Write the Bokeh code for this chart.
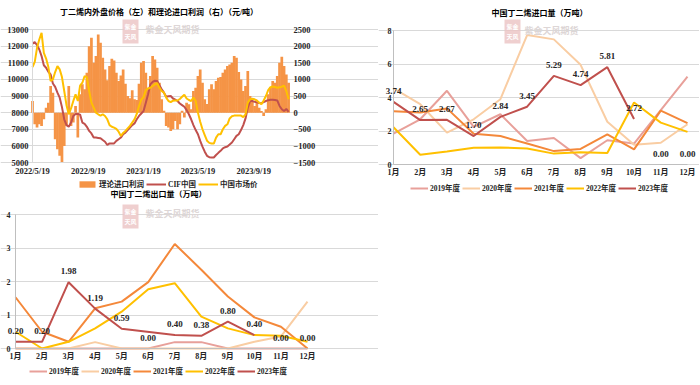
import numpy as np
import pandas as pd
from bokeh.plotting import figure
from bokeh.models import (Range1d, LinearAxis, FixedTicker, Legend, LegendItem,
                          Label, LabelSet, ColumnDataSource)
from bokeh.layouts import row, column
from bokeh.embed import file_html
from bokeh.resources import INLINE
from bokeh.core.properties import value

# ---------------- Chart 1 data (every 5 days from start_date) ----------------
start_date = "2022-05-19"
step_days = 5
profit = [350, -350, -450, -350, -400, -200, 150, 300, 800, 600,
          -800, -1100, -1300, -1500, -1000, -400, 800, -400, -300, 200,
          -750, 550, 850, 700, 1200, 2000, 2250, 1500, 1700, 2350,
          2100, 1650, 1300, 970, 1400, 1620, 1570, 1200, 950, 1120,
          1300, 870, 500, 430, 670, 400, 380, 870, 1500, 1550,
          1200, 750, 1100, 1700, 1600, 1350, 900, 400, 60, -400,
          -450, -550, -500, -250, -500, -350, 60, -150, 300, 250,
          100, 650, 750, 1100, 1300, 900, 400, 260, 700, 850,
          700, 950, 1050, 1070, 1200, 1300, 1400, 1450, 1500, 1700,
          1650, 1220, 1000, 650, 800, 1250, 500, 320, 200, 300,
          150, 50, -100, 100, 550, 770, 950, 900, 1100, 1500,
          1680, 1400, 1150, 900]
cif_price = [12150, 12250, 12050, 11800, 11400, 10850, 10700, 10450, 10300, 9750,
             9550, 9200, 8900, 8330, 7600, 7250, 7150, 7400, 7800, 7920,
             7920, 7880, 7400, 7320, 7150, 6900, 6750, 6500, 6500, 6480,
             6460, 6350, 6250, 6050, 6150, 6150, 6150, 6300, 6400, 6500,
             6700, 6800, 6950, 7100, 7250, 7350, 7600, 7800, 7950, 8100,
             8600, 9100, 9700, 9850, 9920, 9900, 9650, 9400, 9200, 8950,
             8980, 9000, 8850, 8780, 8700, 8550, 8450, 8350, 8150, 7900,
             7600, 7250, 6950, 6700, 6300, 5950, 5650, 5400, 5320, 5300,
             5300, 5450, 5580, 5700, 5850, 5920, 5960, 6080, 6200, 6400,
             6600, 6700, 6950, 7250, 7650, 8300, 8700, 8700, 8650, 8630,
             8580, 8570, 8630, 8700, 8750, 8770, 8770, 8760, 8730, 8400,
             8200, 8100, 8220, 8050]
market_price = [10740, 11050, 11900, 12400, 12800, 11600, 11250, 10740, 9900, 10000,
                10440, 10800, 10600, 10140, 9300, 8450, 7900, 8250, 8700, 9100,
                8700, 9630, 9800, 10200, 10140, 9300, 8600, 8300, 8000, 7900,
                7820, 7900, 7800, 7600, 7250, 7150, 7100, 7020, 6850, 6600,
                6780, 6900, 7050, 7200, 7400, 7600, 7920, 8400, 8780, 8930,
                9350, 9450, 9500, 9600, 9700, 9780, 9500, 9300, 9200, 8900,
                8700, 8630, 8720, 8730, 8730, 8820, 8950, 9080, 8850, 8760,
                8700, 8900, 8700, 8000, 7450, 7000, 6650, 6310, 6180, 6140,
                6140, 6500, 6700, 6700, 7000, 7200, 7300, 7650, 7780, 7820,
                7820, 7820, 7820, 7730, 7900, 8600, 8800, 8830, 8800, 8730,
                8600, 8500, 8730, 9000, 9350, 9530, 9570, 9540, 9500, 9520,
                9560, 9630, 9300, 8800]
date_ticks = ["2022-05-19", "2022-09-19", "2023-01-19", "2023-05-19", "2023-09-19"]
date_tick_labels = ["2022/5/19", "2022/9/19", "2023/1/19", "2023/5/19", "2023/9/19"]
end_date = "2023-12-07"
price_ticks = list(range(5000, 13001, 1000))
profit_ticks = list(range(-1500, 2501, 500))

# ---------------- Chart 2 / 3 data ----------------
months = list(range(1, 13))
month_labels = ["1月", "2月", "3月", "4月", "5月", "6月", "7月", "8月", "9月", "10月", "11月", "12月"]
years = ["2019年度", "2020年度", "2021年度", "2022年度", "2023年度"]

imp_ticks = [0, 2, 4, 6, 8]
imp_2019 = [1.84, 2.70, 4.40, 2.25, 3.00, 1.40, 1.58, 0.38, 1.45, 1.25, 3.25, 5.25]
imp_2020 = [4.55, 3.60, 1.90, 2.70, 3.90, 7.73, 7.47, 5.95, 2.55, 1.18, 1.30, 2.40]
imp_2021 = [3.18, 3.10, 3.35, 1.84, 1.70, 1.25, 0.80, 0.93, 1.80, 0.90, 3.22, 2.47]
imp_2022 = [2.22, 0.58, 0.78, 1.00, 1.02, 0.96, 0.65, 0.73, 0.69, 3.70, 2.50, 1.95]
imp_2023 = [3.74, 2.65, 2.67, 1.70, 2.84, 3.45, 5.29, 4.74, 5.81, 2.72, 0.00, 0.00]

exp_ticks = [0, 1, 2, 3, 4]
exp_2019 = [0.00, 0.00, 0.00, 0.00, 0.00, 0.00, 0.19, 0.19, 0.00, 0.00, 0.00, 0.00]
exp_2020 = [0.00, 0.00, 0.00, 0.19, 0.00, 0.00, 0.00, 0.00, 0.00, 0.20, 0.36, 1.40]
exp_2021 = [1.53, 0.50, 0.20, 1.20, 1.40, 1.98, 3.12, 2.35, 1.55, 0.93, 0.65, 0.00]
exp_2022 = [0.50, 0.00, 0.20, 0.60, 1.10, 1.77, 1.95, 0.95, 0.60, 0.40, 0.38, 0.20]
exp_2023 = [0.20, 0.20, 1.98, 1.19, 0.59, 0.00, 0.40, 0.38, 0.80, 0.40, 0.00, 0.00]

# ---------------- styles ----------------
FONT = "Liberation Serif, Noto Sans CJK SC"
TXT = "#262626"
GRID = "#D9D9D9"
AXIS = "#BFBFBF"
BAR_COLOR = "#F59446"
CIF_COLOR = "#C0504D"
MKT_COLOR = "#FFC000"
YEAR_COLORS = ["#E8A09A", "#F9CDA3", "#F4883A", "#FFC000", "#C0504D"]


def style_axis(ax, size, standoff, line_color, fixed, bounds):
    ax.fixed_location = fixed
    ax.bounds = bounds
    ax.major_label_text_font = FONT
    ax.major_label_text_font_size = size
    ax.major_label_text_font_style = "bold"
    ax.major_label_text_color = TXT
    ax.major_tick_out = 0
    ax.major_tick_in = 0
    ax.minor_tick_out = 0
    ax.minor_tick_in = 0
    ax.major_label_standoff = standoff
    ax.axis_line_color = line_color


def make_fig(w, h, xr, yr):
    # the frame covers the whole canvas; axes are drawn at fixed data locations inside it
    p = figure(width=w, height=h, output_backend="svg", toolbar_location=None, title=None,
               x_range=Range1d(*xr), y_range=Range1d(*yr),
               min_border_left=0, min_border_right=0, min_border_top=0, min_border_bottom=0)
    p.outline_line_color = None
    return p


def make_legend(items, loc, gw):
    return Legend(items=items, location=loc, orientation="horizontal",
                  background_fill_alpha=0, border_line_color=None,
                  padding=0, margin=0, spacing=2, label_standoff=2,
                  glyph_width=gw, glyph_height=8, label_height=8,
                  label_text_font=FONT, label_text_font_size="7.5px",
                  label_text_font_style="bold", label_text_color=TXT)


def add_text(p, x, y, text):
    p.add_layout(Label(x=x, y=y, text=text, text_align="center", text_baseline="middle",
                       text_font=FONT, text_font_size="8px", text_color="black",
                       text_font_style="bold"))


def add_watermark(p, fx, fy, sx, sy):
    p.add_layout(Label(x=sx, y=sy, text="紫金\n天风", text_align="center", text_baseline="middle",
                       text_font="Noto Sans CJK SC", text_font_size="6px", text_color="white",
                       text_font_style="bold", background_fill_color="#EBC3C3",
                       background_fill_alpha=0.8, padding=2))
    p.add_layout(Label(x=fx, y=fy, text="紫金天风期货", text_align="center", text_baseline="middle",
                       text_font="Noto Sans CJK SC", text_font_size="9px", text_color="#DDD6D6",
                       text_font_style="bold"))


# ================= Chart 1 =================
t0 = pd.Timestamp(start_date)
days = np.arange(len(profit)) * step_days
tick_days = [(pd.Timestamp(t) - t0).days for t in date_ticks]
x_end = (pd.Timestamp(end_date) - t0).days

F1X, F1Y, W1, H1 = 0, 0, 378, 190            # canvas on page
L1, R1, T1, B1 = 32, 289, 29, 162             # plot area on page


def p1x(px):
    return (px - L1) / (R1 - L1) * x_end


def p1y(py):
    return price_ticks[0] + (B1 - py) / (B1 - T1) * (price_ticks[-1] - price_ticks[0])


def p1z(py):
    return profit_ticks[0] + (B1 - py) / (B1 - T1) * (profit_ticks[-1] - profit_ticks[0])


p1 = make_fig(W1, H1, (p1x(F1X), p1x(F1X + W1)), (p1y(F1Y + H1), p1y(F1Y)))
p1.extra_y_ranges = {"profit": Range1d(p1z(F1Y + H1), p1z(F1Y))}
p1.xgrid.visible = False
p1.ygrid.grid_line_color = GRID
p1.ygrid.bounds = (0, x_end)
p1.yaxis.ticker = FixedTicker(ticks=price_ticks)
p1.xaxis.ticker = FixedTicker(ticks=tick_days)
p1.xaxis.major_label_overrides = {d: l for d, l in zip(tick_days, date_tick_labels)}
style_axis(p1.yaxis[0], "8.5px", 4, GRID, 0, (price_ticks[0], price_ticks[-1]))
style_axis(p1.xaxis[0], "8.5px", 3, GRID, price_ticks[0], (0, x_end))
ax_r = LinearAxis(y_range_name="profit", ticker=FixedTicker(ticks=profit_ticks))
style_axis(ax_r, "8.5px", 4, None, x_end, (profit_ticks[0], profit_ticks[-1]))
p1.add_layout(ax_r, "right")

bars = p1.vbar(x=days, top=profit, bottom=0, width=step_days * 1.2, y_range_name="profit",
               fill_color=BAR_COLOR, line_color=None)
cif = p1.line(days, cif_price, line_color=CIF_COLOR, line_width=2)
mkt = p1.line(days, market_price, line_color=MKT_COLOR, line_width=2)

p1.add_layout(make_legend([LegendItem(label="理论进口利润", renderers=[bars]),
                           LegendItem(label="CIF中国", renderers=[cif]),
                           LegendItem(label="中国市场价", renderers=[mkt])],
                          (77 - F1X, F1Y + H1 - 189), 20))
add_watermark(p1, p1x(172), p1y(28.5), p1x(130), p1y(31))
add_text(p1, p1x(158.5), p1y(12), "丁二烯内外盘价格（左）和理论进口利润（右）（元/吨）")


def add_year_lines(p, series):
    items = []
    for name, vals, col in zip(years, series, YEAR_COLORS):
        if name == years[-1]:
            xs = [m for m, v in zip(months, vals) if v > 0]
            ys = [v for v in vals if v > 0]
        else:
            xs, ys = months, vals
        r = p.line(xs, ys, line_color=col, line_width=2)
        items.append(LegendItem(label=name, renderers=[r]))
    return items


def month_chart(fx, fy, w, h, xa, xb, ytop_px, ybot_px, ticks, series, labels, ystand,
                legend_left, legend_center):
    top = ticks[-1]

    def mx(px):
        return 1 + (px - xa) / (xb - xa) * 11

    def my(py):
        return (ybot_px - py) / (ybot_px - ytop_px) * top

    p = make_fig(w, h, (mx(fx), mx(fx + w)), (my(fy + h), my(fy)))
    p.xgrid.visible = False
    p.ygrid.grid_line_color = GRID
    p.ygrid.bounds = (1, 12)
    p.yaxis.ticker = FixedTicker(ticks=ticks)
    p.xaxis.ticker = FixedTicker(ticks=months)
    p.xaxis.major_label_overrides = {m: l for m, l in zip(months, month_labels)}
    style_axis(p.yaxis[0], "8px", ystand, AXIS, 1, (0, top))
    style_axis(p.xaxis[0], "8px", 3, AXIS, 0, (1, 12))
    items = add_year_lines(p, series)
    p.add_layout(make_legend(items, (legend_left - fx, fy + h - legend_center - 4), 18))
    src = ColumnDataSource(dict(x=months, y=labels, t=[f"{v:.2f}" for v in labels]))
    p.add_layout(LabelSet(x="x", y="y", text="t", source=src, y_offset=11,
                          text_align="center", text_baseline="middle",
                          text_font=value(FONT), text_font_size=value("9px"),
                          text_font_style=value("bold"), text_color=TXT))
    return p, mx, my


# ================= Chart 2 =================
p2, m2x, m2y = month_chart(378, 0, 321, 208, 393, 687, 30, 164, imp_ticks,
                           [imp_2019, imp_2020, imp_2021, imp_2022, imp_2023], imp_2023, 2,
                           410, 189)
add_watermark(p2, m2x(551), m2y(30), m2x(512), m2y(31))
add_text(p2, m2x(539), m2y(12.7), "中国丁二烯进口量（万吨）")

# ================= Chart 3 =================
p3, m3x, m3y = month_chart(0, 190, 378, 194, 15, 307, 214, 348, exp_ticks,
                           [exp_2019, exp_2020, exp_2021, exp_2022, exp_2023], exp_2023, 5,
                           29, 372)
add_watermark(p3, m3x(172), m3y(213), m3x(130), m3y(216))
add_text(p3, m3x(158), m3y(194), "中国丁二烯出口量（万吨）")

layout = row(column(p1, p3), p2)
open("out.html", "w").write(file_html(layout, INLINE))
